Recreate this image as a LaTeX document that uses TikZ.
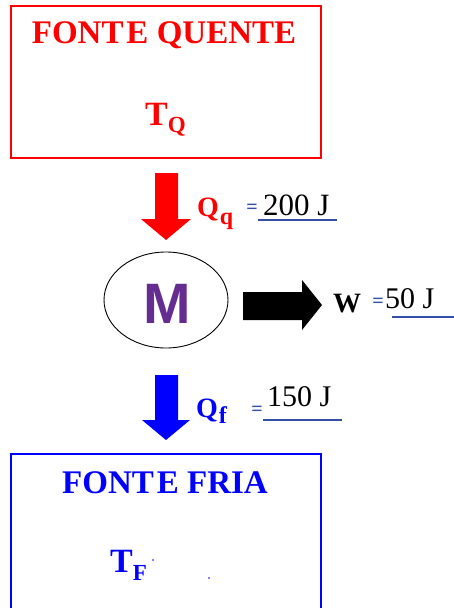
\documentclass[tikz,border=0pt]{standalone}
\usepackage{fontspec}
\setmainfont{Liberation Serif}
\newfontfamily\motorfont{Liberation Sans}
\definecolor{hotred}{RGB}{255, 0, 0}
\definecolor{coldblue}{RGB}{0, 0, 255}
\definecolor{lineblue}{RGB}{50, 80, 170}
\definecolor{motorpurple}{RGB}{102, 45, 145}
\usetikzlibrary{shapes.geometric, positioning}

\newcommand{\fsz}[1]{\fontsize{#1}{#1}\selectfont}

\begin{document}
\begin{tikzpicture}[x=1pt, y=-1pt,
  srcbox/.style={draw, line width=1.3pt, minimum width=310pt, inner sep=0pt},
  title/.style={anchor=base, inner sep=0pt, font=\bfseries\fsz{33}},
  temp/.style={anchor=base west, inner sep=0pt, font=\bfseries\fsz{34}},
  qlabel/.style={anchor=base west, inner sep=0pt, font=\bfseries\fsz{28}},
  eqsign/.style={anchor=base, inner sep=0pt, text=lineblue, font=\bfseries\fsz{20}},
  val/.style={anchor=base west, inner sep=0pt, font=\fsz{30}},
  uline/.style={draw=lineblue, line width=1.2pt}
]
  \useasboundingbox (0,0) rectangle (454,608);

  % hot source
  \node[srcbox, draw=hotred, minimum height=152pt] (hot) at (166,82) {};
  \node[title, text=hotred] (hottitle) at (164,43) {FONT\kern3pt E QUENTE};
  \node[temp, text=hotred] (tq) at (145,125) {T\raisebox{-7pt}{\fsz{23}Q}};

  % cold source
  \node[srcbox, draw=coldblue, minimum height=190pt] (cold) at (166,549) {};
  \node[title, text=coldblue] (coldtitle) at (165,493) {FONT\kern3pt E FRIA};
  \node[temp, text=coldblue] (tf) at (110,572) {T\raisebox{-8pt}{\fsz{23}F}};
  \fill[coldblue] (153,560) circle (0.8pt) (209,578) circle (0.8pt);

  % engine
  \node[draw, ellipse, line width=0.9pt, minimum width=124pt, minimum height=96pt] (motor) at (166,300) {};
  \node[inner sep=0pt, text=motorpurple, font=\motorfont\bfseries\fsz{57}] (mlabel) at (167,304) {M};

  % block arrows
  \fill[hotred] (155,173) -- (178,173) -- (178,219) -- (191,219) -- (166,240)
    -- (141,219) -- (155,219) -- cycle;
  \fill[coldblue] (155,375) -- (178,375) -- (178,420) -- (190,420) -- (166,440)
    -- (142,420) -- (155,420) -- cycle;
  \fill[black] (243,292) -- (302,292) -- (302,280) -- (322,305) -- (302,330)
    -- (302,320) -- (243,320) -- cycle;

  % heat in
  \node[qlabel, text=hotred] (qq) at (197,216) {Q\kern1pt\raisebox{-8pt}{\fsz{24}q}};
  \node[eqsign] (eqq) at (252,213) {=};
  \node[val, font=\fsz{31}] (vq) at (263,215) {200 J};
  \draw[uline] (258,220) -- (337,220);

  % work
  \node[qlabel] (w) at (333,312) {W};
  \node[eqsign] (eqw) at (378,307) {=};
  \node[val] (vw) at (385,308) {50 J};
  \draw[uline] (392,317) -- (454,317);

  % heat out
  \node[qlabel, text=coldblue] (qf) at (196,417) {Q\kern1pt\raisebox{-6pt}{\fsz{24}f}};
  \node[eqsign] (eqf) at (257,415) {=};
  \node[val] (vf) at (267,406) {150 J};
  \draw[uline] (263,420) -- (342,420);
\end{tikzpicture}
\end{document}
